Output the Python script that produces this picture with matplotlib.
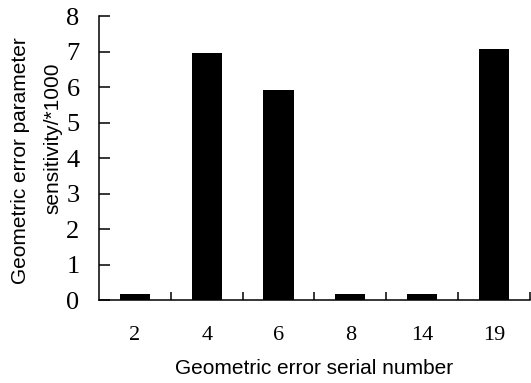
import matplotlib
matplotlib.use("Agg")
import matplotlib.pyplot as plt
import numpy as np

categories = ['2', '4', '6', '8', '14', '19']
sensitivity = [0.16, 6.96, 5.92, 0.16, 0.16, 7.07]

fig = plt.figure(figsize=(5.31, 3.83), dpi=100)
ax = fig.add_axes([0.1864, 0.2167, 0.8116, 0.7415])

pos = np.arange(len(categories))
ax.bar(pos, sensitivity, width=0.42, color='black')

ax.set_xlim(-0.5, len(categories) - 0.5)
ax.set_ylim(0, 8)
ax.spines['top'].set_visible(False)
ax.spines['right'].set_visible(False)
ax.spines['left'].set_linewidth(1.1)
ax.spines['bottom'].set_linewidth(1.1)

ax.set_xticks(pos)
ax.set_xticklabels(categories, family='Liberation Serif', fontsize=16)
ax.tick_params(axis='x', which='major', length=0, pad=19)
ax.set_xticks(pos + 0.5, minor=True)
ax.tick_params(axis='x', which='minor', direction='in', length=6, width=1.1)

ax.set_yticks(range(0, 9))
ax.set_yticklabels([str(v) for v in range(0, 9)], family='Liberation Serif', fontsize=19)
ax.tick_params(axis='y', direction='in', length=8, width=1.1, pad=14)

ax.set_xlabel('Geometric error serial number', family='Liberation Sans', fontsize=15, labelpad=10)

# two-line y label, second line sits a bit higher than the first
fig.text(0.0377, 0.5796, 'Geometric error parameter', family='Liberation Sans', fontsize=15,
         rotation=90, ha='center', va='center')
fig.text(0.0998, 0.6397, 'sensitivity/*1000', family='Liberation Sans', fontsize=15,
         rotation=90, ha='center', va='center')

plt.savefig('out.png', dpi=100)
